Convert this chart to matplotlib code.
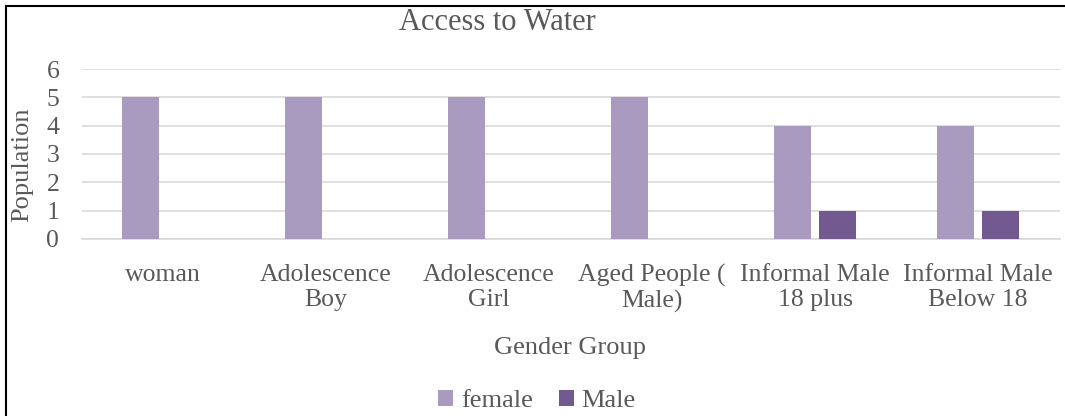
import numpy as np
import matplotlib.pyplot as plt
from matplotlib.lines import Line2D

categories = [
    "woman",
    "Adolescence\nBoy",
    "Adolescence\nGirl",
    "Aged People (\nMale)",
    "Informal Male\n18 plus",
    "Informal Male\nBelow 18",
]
female = [5, 5, 5, 5, 4, 4]
male = [0, 0, 0, 0, 1, 1]
series_names = ["female", "Male"]
y_ticks = [0, 1, 2, 3, 4, 5, 6]

FEMALE_COLOR = "#A99BBF"
MALE_COLOR = "#72598F"
TEXT_COLOR = "#595959"
GRID_COLOR = "#D9D9D9"

plt.rcParams["font.family"] = ["Liberation Serif", "DejaVu Serif"]

W, H = 1065, 416
fig = plt.figure(figsize=(W / 100, H / 100), dpi=100)
ax = fig.add_axes([81.5 / W, 1 - 239 / H, 978 / W, 170 / H])

x = np.arange(len(categories))
width = 0.227
offset = 0.141

ax.bar(x - offset, female, width, color=FEMALE_COLOR, label=series_names[0], zorder=3)
ax.bar(x + offset, male, width, color=MALE_COLOR, label=series_names[1], zorder=3)

ax.set_xlim(-0.5, len(categories) - 0.5)
ax.set_ylim(0, 6)
ax.set_yticks(y_ticks)
ax.set_yticklabels([str(t) for t in y_ticks], fontsize=18.5, color=TEXT_COLOR)
ax.set_xticks(x)
ax.set_xticklabels(categories, fontsize=18.5, color=TEXT_COLOR, linespacing=1.15)
ax.tick_params(axis="both", length=0)
ax.tick_params(axis="x", pad=18)
ax.tick_params(axis="y", pad=16)

ax.yaxis.grid(True, color=GRID_COLOR, linewidth=1.2, zorder=0)
for side in ["top", "right", "left"]:
    ax.spines[side].set_visible(False)
ax.spines["bottom"].set_color(GRID_COLOR)
ax.spines["bottom"].set_linewidth(1.2)

ax.set_xlabel("Gender Group", fontsize=19, color=TEXT_COLOR)
ax.xaxis.set_label_coords(0.5, -0.575)

# axis title on the left, placed in figure pixels
fig.text(22 / W, 1 - 165 / H, "Population", fontsize=19, color=TEXT_COLOR,
         rotation=90, ha="center", va="center")

fig.text(497 / W, 1 - 22 / H, "Access to Water", fontsize=22,
         color=TEXT_COLOR, ha="center", va="center")

leg = fig.legend(loc="center", bbox_to_anchor=(537 / W, 1 - 401 / H), ncol=2,
                 frameon=False, fontsize=19, handlelength=0.55, handleheight=0.55,
                 handletextpad=0.3, columnspacing=1.0)
for t in leg.get_texts():
    t.set_color(TEXT_COLOR)

# outer frame: left and top edges
fig.add_artist(Line2D([6 / W, 6 / W], [0, 1 - 6 / H], color="black", linewidth=1.5))
fig.add_artist(Line2D([6 / W, 1], [1 - 6 / H, 1 - 6 / H], color="black", linewidth=1.5))

fig.savefig("out.png", dpi=100, facecolor="white")
